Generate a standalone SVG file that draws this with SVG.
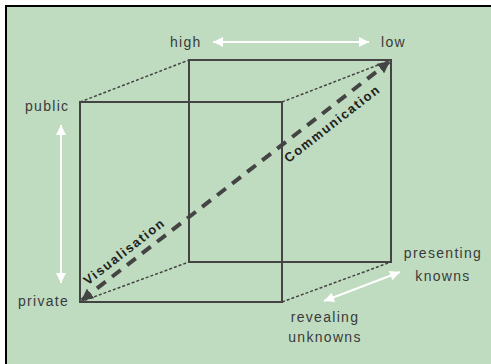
<svg xmlns="http://www.w3.org/2000/svg" width="491" height="364" viewBox="0 0 491 364">
<style>
.lbl{font-family:"Liberation Sans",Arial,sans-serif;font-size:14px;fill:#3a3a3a;letter-spacing:1.3px}
.diag{font-family:"Liberation Sans",Arial,sans-serif;font-size:13px;font-weight:bold;fill:#222;letter-spacing:1.5px}
.face{fill:none;stroke:#444;stroke-width:2}
.edge{fill:none;stroke:#444;stroke-width:1.5;stroke-dasharray:3 2}
.flow{fill:none;stroke:#444;stroke-width:4;stroke-dasharray:11 8}
.warrow{fill:none;stroke:#fff;stroke-width:2}
</style>
<defs>
<marker id="wh" viewBox="0 0 10 10" refX="10" refY="5" markerWidth="6.5" markerHeight="5" orient="auto-start-reverse" markerUnits="strokeWidth">
<path d="M0,0 L10,5 L0,10 z" fill="#fff"/>
</marker>
<marker id="dh" viewBox="0 0 10 10" refX="9" refY="5" markerWidth="3" markerHeight="3" orient="auto-start-reverse" markerUnits="strokeWidth">
<path d="M0,0 L10,5 L0,10 z" fill="#444"/>
</marker>
</defs>
<rect x="0" y="0" width="491" height="364" fill="#fff"/>
<rect x="6" y="6" width="485" height="358" fill="#c0dcc0"/>
<path d="M6,364 V6 H491" fill="none" stroke="#000" stroke-width="2"/>
<g id="connectors">
<line class="edge" x1="80" y1="102" x2="189" y2="60"/>
<line class="edge" x1="282" y1="102" x2="391" y2="60"/>
<line class="edge" x1="282" y1="302" x2="391" y2="262"/>
<line class="edge" x1="80" y1="302" x2="189" y2="262"/>
<line class="flow" x1="82" y1="300" x2="389" y2="62" marker-start="url(#dh)" marker-end="url(#dh)"/>
<line class="warrow" x1="213" y1="42" x2="369" y2="42" marker-start="url(#wh)" marker-end="url(#wh)"/>
<line class="warrow" x1="61" y1="125" x2="61" y2="283" marker-start="url(#wh)" marker-end="url(#wh)"/>
<line class="warrow" x1="324" y1="301" x2="400" y2="272" marker-start="url(#wh)" marker-end="url(#wh)"/>
</g>
<g id="back-face"><rect class="face" x="189" y="60" width="202" height="202"/></g>
<g id="front-face"><rect class="face" x="80" y="102" width="202" height="200"/></g>
<g id="label-high"><text class="lbl" x="170" y="47">high</text></g>
<g id="label-low"><text class="lbl" x="381" y="47">low</text></g>
<g id="label-public"><text class="lbl" x="25" y="111">public</text></g>
<g id="label-private"><text class="lbl" x="18" y="306">private</text></g>
<g id="label-presenting"><text class="lbl" x="443" y="258" text-anchor="middle">presenting</text><text class="lbl" x="443" y="281" text-anchor="middle">knowns</text></g>
<g id="label-revealing"><text class="lbl" x="325" y="322" text-anchor="middle">revealing</text><text class="lbl" x="325" y="342" text-anchor="middle">unknowns</text></g>
<g id="label-visualisation"><text class="diag" transform="translate(127,255) rotate(-37.9)" text-anchor="middle">Visualisation</text></g>
<g id="label-communication"><text class="diag" transform="translate(335,127) rotate(-37.9)" text-anchor="middle">Communication</text></g>
</svg>
